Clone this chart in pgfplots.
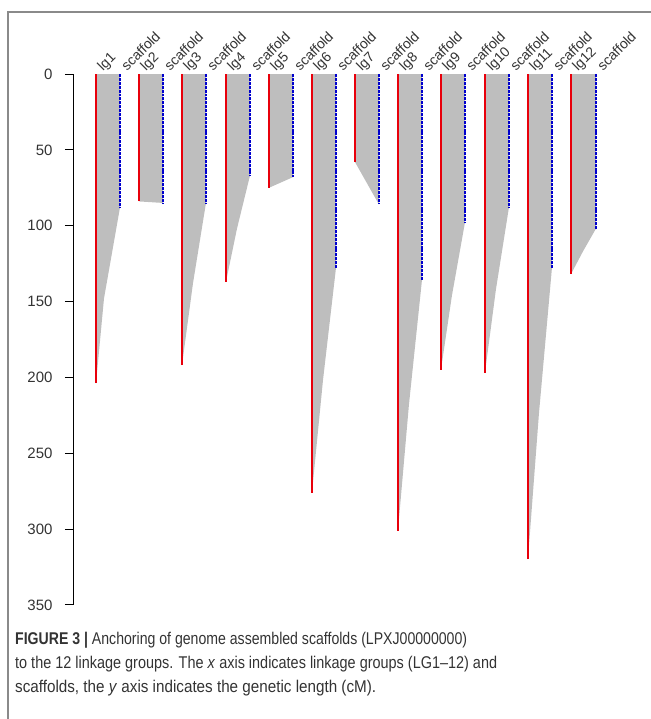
\documentclass[border=0pt]{standalone}
\usepackage{pgfplots}
\pgfplotsset{compat=1.18}
\usepackage{fontspec}
\setmainfont{Liberation Sans}
\newfontfamily\capfont[FakeStretch=0.86]{Liberation Sans}
\definecolor{lggray}{HTML}{BEBEBE}
\definecolor{lgred}{HTML}{E8000B}
\definecolor{lgblue}{HTML}{0000CD}
\definecolor{framegray}{HTML}{8A8A8A}
\definecolor{txt}{HTML}{333333}
% #1 x of lg line, #2 x of scaffold line, #3 lg length, #4 scaffold length, #5 group,
% #6,#7 a point on the lower edge of the grey band of links
\newcommand{\grp}[7]{%
  \addplot[fill=lggray, draw=none] coordinates {(#1,0) (#2,0) (#2,#4) (#6,#7) (#1,#3)} --cycle;
  \addplot[lgred, line width=2.6pt] coordinates {(#1,0) (#1,#3)};
  \addplot[lgblue, line width=2.8pt, dash pattern=on 3pt off 0.9pt] coordinates {(#2,0) (#2,#4)};
  \node[rotate=45, anchor=base west, inner sep=0pt, font=\fontsize{14}{14}\selectfont, text=txt] at (axis cs:#1+7,-1.5) {lg#5};
  \node[rotate=45, anchor=base west, inner sep=0pt, font=\fontsize{14}{14}\selectfont, text=txt] at (axis cs:#2+7,-1.5) {scaffold};
}
\begin{document}
\begin{tikzpicture}
\begin{axis}[
  scale only axis, width=567pt, height=531pt,
  xmin=73, xmax=640, ymin=0, ymax=350, y dir=reverse,
  axis x line=none, axis y line*=left, axis line style={-, black, line width=0.9pt},
  ytick={0,50,...,350}, tick align=outside, major tick length=8pt,
  tick style={black, line width=0.9pt},
  yticklabel style={font=\fontsize{15}{15}\selectfont, text=txt, xshift=-9pt, /pgf/number format/assume math mode=true},
  clip=false,
]
\grp{96}{120}{204}{88}{1}{104}{148}
\grp{139}{163}{84}{85}{2}{151}{84.5}
\grp{182}{206}{192}{85}{3}{193}{138}
\grp{226}{250}{137}{67}{4}{237}{102}
\grp{269}{293}{75}{68}{5}{281}{71.5}
\grp{312}{336}{276}{128}{6}{323}{202}
\grp{355}{379}{58}{86}{7}{367}{72}
\grp{398}{422}{301}{136}{8}{409}{218}
\grp{441}{465}{195}{98}{9}{452}{146}
\grp{485}{509}{197}{88}{10}{496}{142}
\grp{528}{552}{320}{128}{11}{539}{224}
\grp{571}{596}{132}{102}{12}{583}{117}
% frame
\draw[framegray, line width=1.2pt] (axis cs:8,425.2) -- (axis cs:8,-40.9) -- (axis cs:651,-40.9);
% caption
\node[anchor=base west, inner sep=0pt, font=\capfont\fontsize{17}{17}\selectfont, text=txt] at (axis cs:15,376.4) {\resizebox{452pt}{\height}{\textbf{FIGURE 3 |} Anchoring of genome assembled scaffolds (LPXJ00000000)}};
\node[anchor=base west, inner sep=0pt, font=\capfont\fontsize{17}{17}\selectfont, text=txt] at (axis cs:15,391.9) {\resizebox{482pt}{\height}{to the 12 linkage groups. The \textit{x} axis indicates linkage groups (LG1\textendash12) and}};
\node[anchor=base west, inner sep=0pt, font=\capfont\fontsize{17}{17}\selectfont, text=txt] at (axis cs:15,408.0) {\resizebox{361pt}{\height}{scaffolds, the \textit{y} axis indicates the genetic length (cM).}};
\coordinate (TL) at (axis cs:0,-48.78);
\coordinate (BR) at (axis cs:651,425.2);
\end{axis}
\pgfresetboundingbox
\useasboundingbox (TL) rectangle (BR);
\end{tikzpicture}
\end{document}
